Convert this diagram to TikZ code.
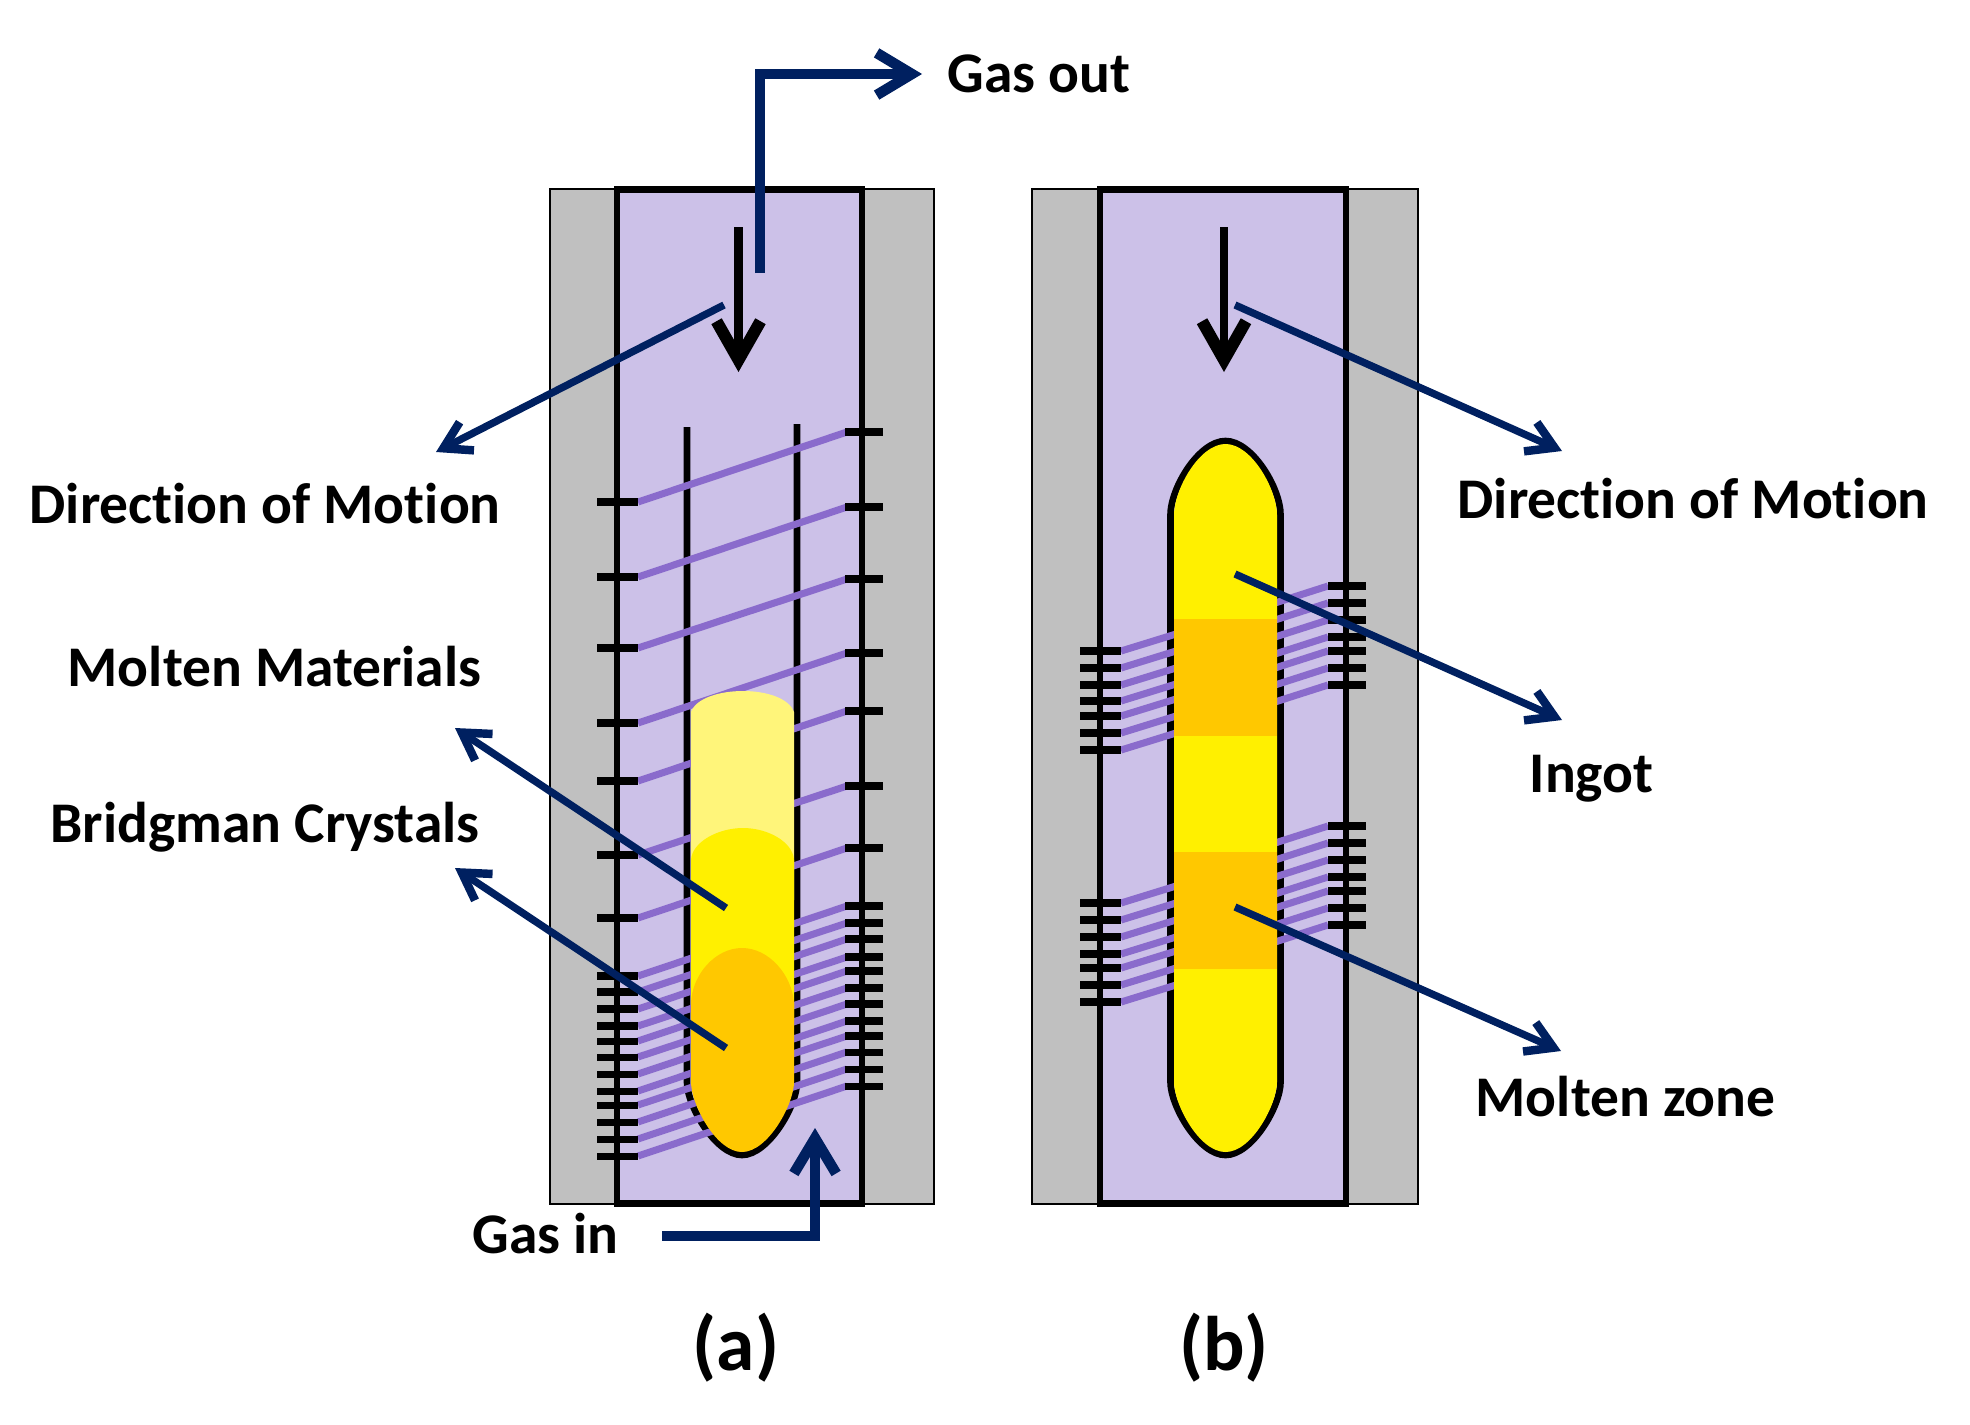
\documentclass[tikz,border=0pt]{standalone}
\usepackage{fontspec}
\setmainfont[Ligatures=NoCommon]{Carlito}
\usetikzlibrary{arrows.meta}
\definecolor{shell}{HTML}{C0C0C0}
\definecolor{gasfill}{HTML}{CCC1E8}
\definecolor{coil}{HTML}{8A6BCC}
\definecolor{navy}{HTML}{002060}
\definecolor{melt}{HTML}{FFF000}
\definecolor{meltpale}{HTML}{FFF57A}
\definecolor{zone}{HTML}{FFC800}
\begin{document}
\begin{tikzpicture}[x=0.01cm,y=-0.01cm,
   housing/.style={draw=black,fill=shell,line width=0.5pt},
   tube/.style={draw=black,fill=gasfill,line width=1.95pt},
   crucible/.style={draw=black,line width=1.9pt},
   wire/.style={coil,line width=2pt},
   coiltick/.style={black,line width=2pt},
   motion/.style={black,line width=2.5pt,-{Straight Barb[length=11pt,width=12.5pt,line width=3.4pt]}},
   flow/.style={navy,line width=2.7pt,-{Straight Barb[length=10pt,width=12pt,line width=3pt]}},
   leader/.style={navy,line width=2.1pt,-{Straight Barb[length=7.5pt,width=9pt,line width=2.4pt]}},
   lab/.style={inner sep=0pt,anchor=base west,font=\fontsize{16.35}{18}\selectfont\bfseries},
   panellab/.style={inner sep=0pt,font=\fontsize{22}{26}\selectfont\bfseries}]
 \useasboundingbox (0,0) rectangle (1970,1424);

 % furnace walls and tubes
 \foreach \gl/\tl/\tr/\gr in {550/617/862/934,1032/1100/1346/1418}
 {\draw[housing] (\gl,189) rectangle (\gr,1204);
  \draw[tube] (\tl,189.5) rectangle (\tr,1203.5);}

 % crucibles
 \draw[crucible] (687,427) -- (687,1082) .. controls (687,1106) and (716,1155) .. (742,1155)
   .. controls (768,1155) and (797,1106) .. (797,1082) -- (797,424);
 \draw[crucible] (1170.5,515) .. controls (1170.5,488) and (1199,441) .. (1225.5,441)
   .. controls (1252,441) and (1280.5,488) .. (1280.5,515) -- (1280.5,1082)
   .. controls (1280.5,1106) and (1252,1155) .. (1225.5,1155)
   .. controls (1199,1155) and (1170.5,1106) .. (1170.5,1082) -- cycle;

 % coil of (a)
 \foreach \yl/\yr in {502/432,577/507,648/579,723/653,781/711,855/786,918/848,
   976/906,992/923,1009/939,1026/957,1041/971,1057/988,1074/1004,1091/1021,
   1105/1036,1122/1052,1139/1069,1156/1086}
 {\draw[wire] (638,\yl) -- (847,\yr);
  \draw[coiltick] (597,\yl) -- (638,\yl);
  \draw[coiltick] (845,\yr) -- (883,\yr);}

 % coils of (b)
 \foreach \yl/\yr in {651/586,668/603,685/620,701/637,716/651,733/668,750/685,
   903/826,920/843,937/860,954/877,968/891,985/908,1002/925}
 {\draw[wire] (1121,\yl) -- (1176,\yl-17);
  \draw[wire] (1275,\yr+17) -- (1328,\yr);
  \draw[coiltick] (1080,\yl) -- (1121,\yl);
  \draw[coiltick] (1328,\yr) -- (1366,\yr);}

 % charge of (a)
 \fill[meltpale] (691,712) .. controls (696,698) and (720,691) .. (743,691)
   .. controls (766,691) and (789,698) .. (794,712) -- (794,900) -- (691,900) -- cycle;
 \fill[melt] (691,860) .. controls (692,842) and (718,828) .. (743,828)
   .. controls (768,828) and (793,842) .. (794,860) -- (794,1020) -- (691,1020) -- cycle;
 \fill[zone] (691,1003) .. controls (692,975) and (715,948) .. (742,948)
   .. controls (769,948) and (792,975) .. (794,1003) -- (794,1082)
   .. controls (794,1104) and (768,1152) .. (742,1152)
   .. controls (716,1152) and (691,1104) .. (691,1082) -- cycle;

 % ingot of (b)
 \fill[melt] (1174,515) .. controls (1174,490) and (1199,444) .. (1225.5,444)
   .. controls (1252,444) and (1277,490) .. (1277,515) -- (1277,1082)
   .. controls (1277,1104) and (1252,1152) .. (1225.5,1152)
   .. controls (1199,1152) and (1174,1104) .. (1174,1082) -- cycle;
 \fill[zone] (1174,619) rectangle (1277,736);
 \fill[zone] (1174,852) rectangle (1277,969);

 % free ends of the connectors
 \coordinate (m1) at (738.5,227);
 \coordinate (m2) at (738.5,372);
 \coordinate (m3) at (1224,227);
 \coordinate (m4) at (1224,372);
 \coordinate (g1) at (760,273);
 \coordinate (g2) at (760,74);
 \coordinate (g3) at (922,74);
 \coordinate (g4) at (662,1236);
 \coordinate (g5) at (815,1236);
 \coordinate (g6) at (815,1128);
 \coordinate (d1) at (724,305);
 \coordinate (d2) at (436,452);
 \coordinate (d3) at (1235,305);
 \coordinate (d4) at (1562,451);
 \coordinate (i1) at (1235,574);
 \coordinate (i2) at (1562,720);
 \coordinate (z1) at (1235,907);
 \coordinate (z2) at (1561,1051);
 \coordinate (c1) at (726,908);
 \coordinate (c2) at (455,728);
 \coordinate (c3) at (726,1048);
 \coordinate (c4) at (455,868);

 \draw[motion] (m1) -- (m2);
 \draw[motion] (m3) -- (m4);
 \draw[flow] (g1) -- (g2) -- (g3);
 \draw[flow] (g4) -- (g5) -- (g6);
 \foreach \from/\to in {d1/d2,d3/d4,i1/i2,z1/z2,c1/c2,c3/c4}
  \draw[leader] (\from) -- (\to);

 \node[lab] (gasout) at (947,92) {Gas out};
 \node[lab] (gasin) at (472,1253) {Gas in};
 \node[lab] (dirleft) at (29,523) {Direction of Motion};
 \node[lab] (dirright) at (1457,518) {Direction of Motion};
 \node[lab] (molten) at (67,686) {Molten Materials};
 \node[lab] (bridgman) at (50,842) {Bridgman Crystals};
 \node[lab] (ingot) at (1529,792) {Ingot};
 \node[lab] (zonelab) at (1475,1116) {Molten zone};
 \node[panellab] (capa) at (736,1348) {(a)};
 \node[panellab] (capb) at (1224,1348) {(b)};
\end{tikzpicture}
\end{document}
